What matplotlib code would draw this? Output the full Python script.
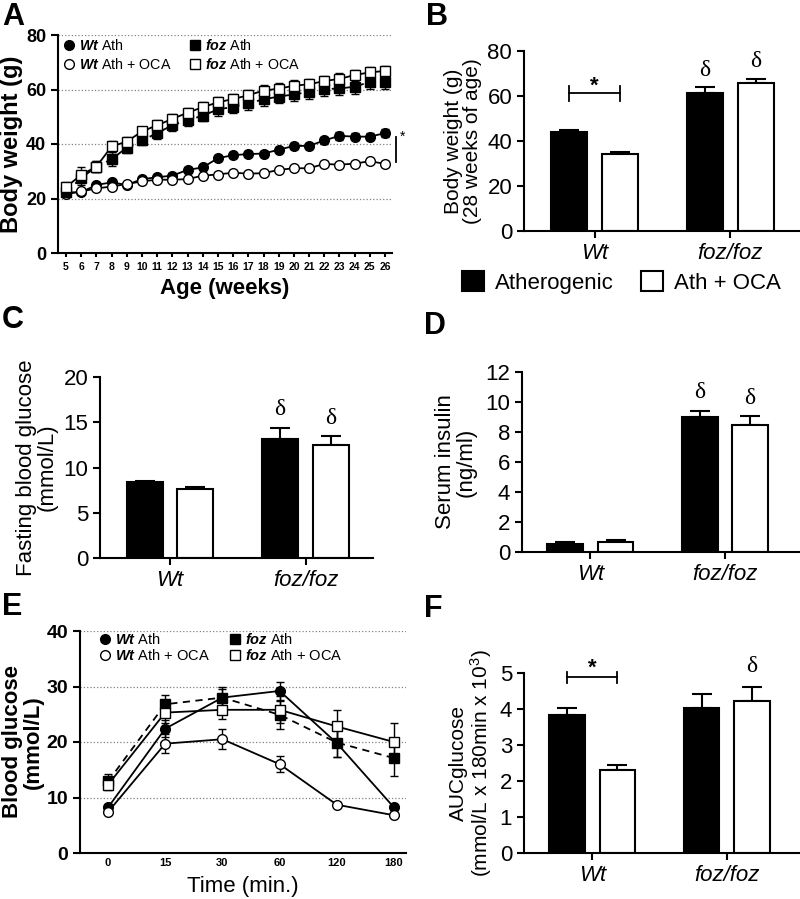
import matplotlib
matplotlib.use("Agg")
import matplotlib.pyplot as plt
import numpy as np
from matplotlib.lines import Line2D
from matplotlib.patches import Patch

plt.rcParams["font.family"] = ["Liberation Sans", "DejaVu Sans"]
plt.rcParams["mathtext.fontset"] = "custom"
plt.rcParams["mathtext.rm"] = "Liberation Sans"
plt.rcParams["mathtext.it"] = "Liberation Sans:italic"
plt.rcParams["mathtext.bf"] = "Liberation Sans:bold"
plt.rcParams["mathtext.bfit"] = "Liberation Sans:bold:italic"

# ======================= 数据 =======================
# A: 体重随周龄
weeks = list(range(5, 27))
wt_ath = [22.2, 22.3, 25.0, 25.9, 25.0, 27.1, 27.8, 28.4, 30.5, 31.4, 34.8,
          35.9, 36.3, 36.5, 37.9, 39.3, 39.3, 41.3, 43.0, 42.7, 42.7, 44.0]
wt_ath_err = [1.0, 0.8, 0.8, 0.8, 0.8, 0.8, 0.8, 0.8, 0.9, 0.9, 1.0,
              1.0, 1.0, 1.0, 1.0, 1.2, 1.0, 1.2, 1.4, 1.3, 1.2, 1.4]
wt_oca = [21.6, 22.6, 23.7, 24.4, 25.3, 26.3, 26.9, 26.9, 27.1, 28.4, 28.8,
          29.5, 29.1, 29.3, 30.5, 31.1, 31.1, 32.7, 32.4, 32.8, 33.7, 32.7]
wt_oca_err = [0.7, 0.7, 0.8, 0.8, 0.8, 0.8, 0.8, 0.8, 0.8, 0.8, 0.8,
              0.8, 0.8, 0.8, 0.8, 0.8, 0.8, 0.9, 0.9, 0.9, 0.9, 0.9]
foz_ath = [22.3, 27.5, 31.7, 34.4, 38.7, 41.3, 44.0, 46.9, 48.7, 50.4, 52.7,
           53.6, 54.9, 56.4, 57.4, 58.2, 59.1, 60.1, 60.4, 61.0, 62.8, 62.9]
foz_ath_err = [1.5, 2.5, 2.0, 2.5, 2.0, 1.8, 2.0, 2.0, 2.0, 2.0, 2.3,
               2.3, 2.5, 2.5, 2.5, 2.5, 2.5, 2.6, 2.6, 2.7, 2.7, 2.8]
foz_oca = [24.2, 28.7, 31.7, 39.1, 40.9, 44.6, 46.9, 49.2, 51.5, 53.5, 55.3,
           56.5, 57.9, 59.6, 60.3, 61.4, 61.9, 63.1, 63.9, 65.3, 66.3, 66.8]
foz_oca_err = [2.0, 3.0, 2.0, 2.0, 1.8, 1.8, 2.0, 1.8, 1.8, 1.8, 1.8,
               1.8, 2.0, 2.0, 2.0, 2.0, 2.0, 2.0, 2.0, 2.0, 2.0, 2.0]

# 柱状图分组
genotypes = ["Wt", "foz/foz"]

# B: 28 周体重
bw_ath = [44.2, 61.4]
bw_ath_err = [0.9, 2.6]
bw_oca = [34.2, 65.7]
bw_oca_err = [1.0, 2.0]

# C: 空腹血糖
fbg_ath = [8.4, 13.2]
fbg_ath_err = [0.15, 1.2]
fbg_oca = [7.6, 12.5]
fbg_oca_err = [0.25, 1.0]

# D: 血清胰岛素
ins_ath = [0.55, 8.98]
ins_ath_err = [0.11, 0.42]
ins_oca = [0.64, 8.45]
ins_oca_err = [0.13, 0.65]

# E: 糖耐量
gtt_times = ["0", "15", "30", "60", "120", "180"]
gtt_wt_ath = [8.2, 22.4, 28.0, 29.2, 19.8, 8.2]
gtt_wt_ath_err = [0.5, 1.5, 1.5, 1.7, 2.5, 0.4]
gtt_wt_oca = [7.4, 19.7, 20.5, 16.0, 8.7, 6.8]
gtt_wt_oca_err = [0.4, 1.7, 1.8, 1.4, 0.4, 0.4]
gtt_foz_ath = [12.9, 26.8, 28.0, 24.9, 19.9, 17.1]
gtt_foz_ath_err = [1.3, 1.7, 1.9, 2.5, 2.6, 3.3]
gtt_foz_oca = [12.3, 25.3, 25.8, 25.8, 22.8, 20.0]
gtt_foz_oca_err = [1.0, 1.8, 1.6, 2.4, 3.0, 3.5]

# F: AUC
auc_ath = [3.82, 4.04]
auc_ath_err = [0.21, 0.39]
auc_oca = [2.30, 4.21]
auc_oca_err = [0.14, 0.39]

# ======================= 绘图 =======================
W, H = 800, 899
fig = plt.figure(figsize=(8, 8.99), dpi=100)


def px_axes(left, right, bottom, top):
    """像素坐标 -> figure 坐标"""
    return fig.add_axes([left / W, 1 - bottom / H, (right - left) / W, (bottom - top) / H])


def style_axes(ax):
    for s in ["top", "right"]:
        ax.spines[s].set_visible(False)
    for s in ["left", "bottom"]:
        ax.spines[s].set_linewidth(1.5)
    ax.tick_params(width=1.5, length=5, direction="out")


def panel_letter(x, y, s):
    fig.text(x / W, 1 - y / H, s, fontsize=22, fontweight="bold", va="top", ha="left")


def bar_panel(ax, ath, ath_err, oca, oca_err, xlim):
    x = np.arange(len(genotypes))
    off, wid = 0.1875, 0.265
    ax.bar(x - off, ath, wid, color="black", edgecolor="black", lw=1.5, zorder=2)
    ax.bar(x + off, oca, wid, color="white", edgecolor="black", lw=1.5, zorder=2)
    ax.errorbar(x - off, ath, yerr=[np.zeros(len(ath)), ath_err], fmt="none",
                ecolor="black", elinewidth=1.5, capsize=7, capthick=1.5, zorder=3)
    ax.errorbar(x + off, oca, yerr=[np.zeros(len(oca)), oca_err], fmt="none",
                ecolor="black", elinewidth=1.5, capsize=7, capthick=1.5, zorder=1)
    ax.set_xticks(x)
    ax.set_xticklabels(genotypes, fontstyle="italic", fontsize=16)
    ax.set_xlim(*xlim)
    style_axes(ax)
    ax.tick_params(axis="y", labelsize=16)
    return x, off


def delta(ax, x, y):
    ax.text(x, y, "δ", fontsize=17, ha="center", va="bottom", family="Liberation Serif")


def line_series(ax, x, y, err, marker, mfc, ls, ms):
    ax.errorbar(x, y, yerr=err, color="black", marker=marker, mfc=mfc, mec="black",
                ms=ms, ls=ls, lw=1.3, elinewidth=1.0, capsize=3, capthick=1.0, zorder=3)


legend_labels = [r"$\mathbfit{Wt}$ Ath", r"$\mathbfit{Wt}$ Ath + OCA",
                 r"$\mathbfit{foz}$ Ath", r"$\mathbfit{foz}$ Ath + OCA"]
legend_handles = [Line2D([], [], ls="none", marker="o", mfc="black", mec="black", ms=7),
                  Line2D([], [], ls="none", marker="o", mfc="white", mec="black", ms=7),
                  Line2D([], [], ls="none", marker="s", mfc="black", mec="black", ms=7),
                  Line2D([], [], ls="none", marker="s", mfc="white", mec="black", ms=7)]

# ---- A ----
axA = px_axes(58, 392, 253, 35)
line_series(axA, weeks, wt_ath, wt_ath_err, "o", "black", "-", 7)
line_series(axA, weeks, wt_oca, wt_oca_err, "o", "white", "-", 7)
line_series(axA, weeks, foz_ath, foz_ath_err, "s", "black", (0, (4, 3)), 7)
line_series(axA, weeks, foz_oca, foz_oca_err, "s", "white", "-", 7)
axA.set_xlim(4.47, 26.46)
axA.set_ylim(0, 80)
axA.set_yticks([0, 20, 40, 60, 80])
axA.set_xticks(weeks)
axA.yaxis.grid(True, ls=":", color="gray", lw=0.9)
axA.set_axisbelow(True)
style_axes(axA)
axA.tick_params(axis="y", labelsize=13)
axA.tick_params(axis="x", labelsize=7.5, length=3)
for lab in axA.get_xticklabels() + axA.get_yticklabels():
    lab.set_fontweight("bold")
axA.set_ylabel("Body weight (g)", fontsize=17, fontweight="bold", labelpad=2)
axA.set_xlabel("Age (weeks)", fontsize=16, fontweight="bold", labelpad=4)
axA.legend(legend_handles, legend_labels, ncol=2, loc="upper left", frameon=False,
           fontsize=10.3, handlelength=0.6, handletextpad=0.4, columnspacing=1.3,
           labelspacing=0.3, borderaxespad=0.1, bbox_to_anchor=(0.0, 1.02))
axA.plot([26.75, 26.75], [33.5, 42.7], color="black", lw=1.3, clip_on=False)
axA.text(26.95, 42.5, "*", fontsize=10, ha="left", va="center", clip_on=False)
panel_letter(2, 2, "A")

# ---- B ----
axB = px_axes(524, 799, 231, 51)
xB, off = bar_panel(axB, bw_ath, bw_ath_err, bw_oca, bw_oca_err, (-0.522, 1.507))
axB.set_ylim(0, 80)
axB.set_yticks([0, 20, 40, 60, 80])
axB.set_ylabel("Body weight (g)\n(28 weeks of age)", fontsize=15, labelpad=4, linespacing=1.0)
axB.plot([xB[0] - off, xB[0] + off], [61.4, 61.4], color="black", lw=1.3)
for xx in [xB[0] - off, xB[0] + off]:
    axB.plot([xx, xx], [58.0, 64.6], color="black", lw=1.3)
axB.text(xB[0], 59.5, "*", fontsize=16, fontweight="bold", ha="center", va="bottom")
delta(axB, xB[1] - off, 66.5)
delta(axB, xB[1] + off, 70.5)
axB.legend([Patch(facecolor="black", edgecolor="black", lw=1.5),
            Patch(facecolor="white", edgecolor="black", lw=1.5)],
           ["Atherogenic", "Ath + OCA"], ncol=2, frameon=False, fontsize=16,
           loc="center", bbox_to_anchor=(0.777, 0.686), bbox_transform=fig.transFigure,
           handlelength=1.0, handleheight=1.0, handletextpad=0.5, columnspacing=1.2)
panel_letter(426, 2, "B")

# ---- C ----
axC = px_axes(100, 373, 558, 377)
xC, off = bar_panel(axC, fbg_ath, fbg_ath_err, fbg_oca, fbg_oca_err, (-0.517, 1.498))
axC.set_ylim(0, 20)
axC.set_yticks([0, 5, 10, 15, 20])
axC.set_ylabel("Fasting blood glucose\n(mmol/L)", fontsize=16, labelpad=4, linespacing=1.0)
delta(axC, xC[1] - off, 15.3)
delta(axC, xC[1] + off, 14.3)
panel_letter(2, 305, "C")

# ---- D ----
axD = px_axes(522, 799, 552, 372)
xD, off = bar_panel(axD, ins_ath, ins_ath_err, ins_oca, ins_oca_err, (-0.507, 1.55))
axD.set_ylim(0, 12)
axD.set_yticks([0, 2, 4, 6, 8, 10, 12])
axD.set_ylabel("Serum insulin\n(ng/ml)", fontsize=16, labelpad=6, linespacing=1.0)
delta(axD, xD[1] - off, 9.9)
delta(axD, xD[1] + off, 9.5)
panel_letter(424, 311, "D")

# ---- E ----
axE = px_axes(80, 406, 853, 631)
tE = np.arange(len(gtt_times))
line_series(axE, tE, gtt_wt_ath, gtt_wt_ath_err, "o", "black", "-", 7)
line_series(axE, tE, gtt_wt_oca, gtt_wt_oca_err, "o", "white", "-", 7)
line_series(axE, tE, gtt_foz_ath, gtt_foz_ath_err, "s", "black", (0, (4, 3)), 7)
line_series(axE, tE, gtt_foz_oca, gtt_foz_oca_err, "s", "white", "-", 7)
axE.set_xlim(-0.49, 5.21)
axE.set_ylim(0, 40)
axE.set_yticks([0, 10, 20, 30, 40])
axE.set_xticks(tE)
axE.set_xticklabels(gtt_times)
axE.yaxis.grid(True, ls=":", color="gray", lw=0.9)
axE.set_axisbelow(True)
style_axes(axE)
axE.tick_params(axis="y", labelsize=14)
axE.tick_params(axis="x", labelsize=8, length=0)
for lab in axE.get_xticklabels() + axE.get_yticklabels():
    lab.set_fontweight("bold")
axE.set_xlabel("Time (min.)", fontsize=16, labelpad=6)
axE.set_ylabel("Blood glucose\n(mmol/L)", fontsize=16, fontweight="bold", labelpad=2,
               linespacing=1.0)
axE.legend(legend_handles, legend_labels, ncol=2, loc="upper left", frameon=False,
           fontsize=10.5, handlelength=0.6, handletextpad=0.4, columnspacing=1.4,
           labelspacing=0.1, borderaxespad=0.1, bbox_to_anchor=(0.04, 1.03))
panel_letter(2, 592, "E")

# ---- F ----
axF = px_axes(524, 799, 853, 673)
xF, off = bar_panel(axF, auc_ath, auc_ath_err, auc_oca, auc_oca_err, (-0.507, 1.537))
axF.set_ylim(0, 5)
axF.set_yticks([0, 1, 2, 3, 4, 5])
axF.set_ylabel("AUCglucose\n(mmol/L x 180min x 10$^3$)", fontsize=15, labelpad=4,
               linespacing=1.0)
axF.plot([xF[0] - off, xF[0] + off], [4.88, 4.88], color="black", lw=1.3, clip_on=False)
for xx in [xF[0] - off, xF[0] + off]:
    axF.plot([xx, xx], [4.72, 5.04], color="black", lw=1.3, clip_on=False)
axF.text(xF[0], 4.83, "*", fontsize=16, fontweight="bold", ha="center", va="bottom")
delta(axF, xF[1] + off, 4.9)
panel_letter(424, 594, "F")

fig.savefig("out.png", dpi=100)
